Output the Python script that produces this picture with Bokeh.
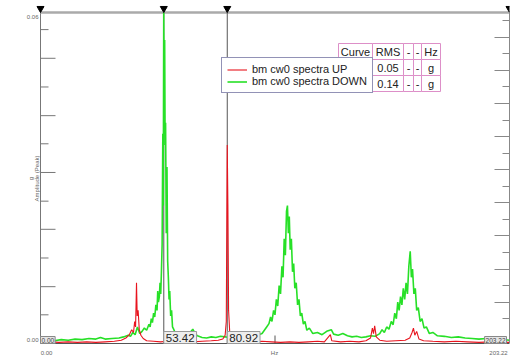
import math
from bokeh.plotting import figure
from bokeh.models import (Range1d, LinearAxis, FixedTicker, Label, Legend,
                          LegendItem, ColumnDataSource)
from bokeh.core.properties import value
from bokeh.embed import file_html
from bokeh.resources import INLINE

# ---------------- data ----------------
X_MAX = 203.22
Y_MAX = 0.06
cursor_hz = [53.42, 80.92]
marker_hz = [0.0, 53.42, 80.92, 203.22]

down_hz = [0, 3, 6, 9, 12, 15, 18, 21, 24, 26, 28, 31, 34, 36, 38, 39, 40, 41, 42, 43,
           44, 45, 46, 47, 47.5, 48, 48.5, 49, 49.5, 50, 50.5, 50.8, 51.1, 51.5, 51.8,
           52.1, 52.4, 52.7, 53.0, 53.2, 53.4, 53.6, 53.8, 54.0, 54.2, 54.5, 54.8, 55.1,
           55.4, 55.7, 56.0, 56.4, 56.8, 57.2, 57.8, 58.5, 59.2, 60, 62, 64, 66, 67, 68,
           70, 72, 74, 76, 78, 80, 82, 84, 86, 88, 90, 92, 94, 96, 97, 98, 99, 99.7,
           100.3, 101, 101.6, 102.2, 102.8, 103.4, 104, 104.6, 105.1, 105.6, 106.1,
           106.6, 107.0, 107.4, 107.8, 108.2, 108.7, 109.2, 109.7, 110.2, 110.8, 111.4,
           112, 112.6, 113.2, 113.9, 114.6, 115.4, 116.5, 118, 120, 122, 124, 126, 127,
           129, 131, 133, 135, 137, 139, 141, 143, 145, 147, 148, 149, 150, 151, 152,
           152.8, 153.5, 154.2, 154.8, 155.4, 156, 156.6, 157.2, 157.8, 158.4, 159,
           159.6, 160.2, 160.7, 161.2, 161.8, 162.4, 163, 163.7, 164.5, 165.3, 166.2,
           167.2, 168.5, 170, 172, 175, 178, 181, 184, 187, 190, 193, 196, 199, 203.22]
down_g = [0.0004, 0.0006, 0.0005, 0.0007, 0.0006, 0.0008, 0.0007, 0.0009, 0.0008, 0.0011,
          0.0008, 0.0009, 0.0010, 0.0012, 0.0015, 0.0013, 0.0020, 0.0016, 0.0030, 0.0018,
          0.0022, 0.0028, 0.0024, 0.0035, 0.0030, 0.0045, 0.0038, 0.0055, 0.0048, 0.0070,
          0.0060, 0.0095, 0.0075, 0.0085, 0.0110, 0.0090, 0.0130, 0.0180, 0.0380, 0.0250,
          0.0600, 0.0420, 0.0550, 0.0360, 0.0400, 0.0200, 0.0320, 0.0150, 0.0120, 0.0080,
          0.0095, 0.0050, 0.0060, 0.0030, 0.0025, 0.0018, 0.0022, 0.0014, 0.0012, 0.0016,
          0.0026, 0.0018, 0.0014, 0.0011, 0.0010, 0.0012, 0.0011, 0.0013, 0.0012, 0.0011,
          0.0012, 0.0010, 0.0011, 0.0012, 0.0013, 0.0015, 0.0018, 0.0024, 0.0030, 0.0036,
          0.0048, 0.0040, 0.0060, 0.0052, 0.0080, 0.0068, 0.0105, 0.0090, 0.0140, 0.0120,
          0.0190, 0.0160, 0.0240, 0.0250, 0.0200, 0.0230, 0.0170, 0.0190, 0.0130, 0.0145,
          0.0100, 0.0110, 0.0070, 0.0080, 0.0050, 0.0055, 0.0035, 0.0040, 0.0024, 0.0028,
          0.0018, 0.0020, 0.0016, 0.0022, 0.0025, 0.0017, 0.0015, 0.0018, 0.0014, 0.0012,
          0.0013, 0.0011, 0.0012, 0.0014, 0.0013, 0.0018, 0.0025, 0.0020, 0.0030, 0.0026,
          0.0040, 0.0034, 0.0055, 0.0045, 0.0075, 0.0060, 0.0085, 0.0070, 0.0100, 0.0080,
          0.0110, 0.0090, 0.0140, 0.0167, 0.0120, 0.0135, 0.0090, 0.0100, 0.0060, 0.0065,
          0.0040, 0.0045, 0.0028, 0.0030, 0.0018, 0.0020, 0.0014, 0.0013, 0.0011, 0.0012,
          0.0010, 0.0009, 0.0008, 0.0009, 0.0007, 0.0008, 0.0006]

up_hz = [0, 4, 8, 12, 16, 20, 24, 28, 32, 35, 37, 38.5, 39.5, 40.3, 40.8, 41.2, 41.6, 41.9,
         42.3, 42.8, 43.5, 44.5, 46, 49, 52, 55, 58, 62, 66, 70, 74, 77, 79, 80, 80.5,
         80.92, 81.2, 81.5, 82, 83, 85, 88, 92, 96, 100, 104, 108, 112, 116, 120, 123,
         125.6, 126.2, 130, 134, 138, 141, 143, 143.8, 144.3, 144.8, 145.5, 147, 150,
         154, 158, 160, 161, 161.6, 162.2, 163, 164, 166, 170, 175, 180, 185, 190, 195,
         203.22]
up_g = [0.0002, 0.0003, 0.0002, 0.0003, 0.0002, 0.0003, 0.0002, 0.0003, 0.0004, 0.0006,
        0.0010, 0.0016, 0.0025, 0.0020, 0.0040, 0.0030, 0.0110, 0.0050, 0.0060, 0.0025,
        0.0015, 0.0009, 0.0005, 0.0004, 0.0003, 0.0004, 0.0003, 0.0004, 0.0003, 0.0004,
        0.0005, 0.0006, 0.0008, 0.0015, 0.0040, 0.0360, 0.0250, 0.0060, 0.0020, 0.0008,
        0.0005, 0.0004, 0.0003, 0.0004, 0.0003, 0.0002, 0.0003, 0.0002, 0.0003, 0.0004,
        0.0003, 0.0016, 0.0005, 0.0003, 0.0004, 0.0003, 0.0005, 0.0010, 0.0028, 0.0018,
        0.0032, 0.0012, 0.0006, 0.0004, 0.0005, 0.0006, 0.0010, 0.0020, 0.0028, 0.0015,
        0.0022, 0.0008, 0.0005, 0.0004, 0.0003, 0.0004, 0.0003, 0.0002, 0.0003, 0.0002]

left_major = [0.0103, 0.0207, 0.0310, 0.0413, 0.0517]
left_minor = [0.0052, 0.0155, 0.0258, 0.0362, 0.0465, 0.0569]
right_major = [0.0075, 0.0135, 0.0195, 0.0255, 0.0315, 0.0375, 0.0435, 0.0495, 0.0555]
right_minor = [0.0045, 0.0105, 0.0165, 0.0225, 0.0285, 0.0345, 0.0405, 0.0465, 0.0525, 0.0585]

y_tick_labels = ["0.00", "0.06"]
x_tick_labels = ["0.00", "Hz", "203.22"]
y_title = ["g", "Amplitude (Peak)"]
legend_labels = ["bm cw0 spectra UP", "bm cw0 spectra DOWN"]
table_header = ["Curve", "RMS", "-", "-", "Hz"]
table_rows = [["", "0.05", "-", "-", "g"], ["", "0.14", "-", "-", "g"]]

# ---------------- layout (page pixels) ----------------
W, H = 513, 361
AX_L, AX_R, AX_T, AX_B = 40, 509, 12, 343   # pixel positions of the axes box
FT = 4                                       # top of drawing frame
FONT = "Liberation Sans"
RED = "#e8141e"
GREEN = "#27e027"
AXC = "#777777"

x_per_px = X_MAX / (AX_R - AX_L)
y_per_px = Y_MAX / (AX_B - AX_T)

# the frame spans from the page's left edge to the right axis and down to the page's
# bottom, so that the outer texts can be drawn in it
p = figure(frame_width=AX_R, frame_height=H - FT,
           x_range=Range1d(-AX_L * x_per_px, X_MAX),
           y_range=Range1d(-(H - AX_B) * y_per_px, Y_MAX + (AX_T - FT) * y_per_px),
           output_backend="svg", toolbar_location=None,
           x_axis_location=None, y_axis_location=None,
           min_border_left=0, min_border_right=W - AX_R, min_border_top=FT,
           min_border_bottom=0, background_fill_color="white",
           border_fill_color="white", outline_line_color=None)
p.grid.visible = False
p.extra_x_ranges = {"px": Range1d(0, AX_R)}
p.extra_y_ranges = {"py": Range1d(H, FT)}

# right axis (real axis on the frame's right edge)
ax_r = LinearAxis(ticker=FixedTicker(ticks=right_major, minor_ticks=right_minor),
                  major_tick_in=15, major_tick_out=0, minor_tick_in=7, minor_tick_out=0,
                  major_tick_line_color="#888888", minor_tick_line_color="#888888",
                  axis_line_color="#888888", major_label_text_font_size="0px",
                  major_label_text_color=None, major_label_standoff=0)
ax_r.bounds = (0, Y_MAX)
p.add_layout(ax_r, "right")

# left axis line and ticks
p.segment(x0=[0], y0=[0], x1=[0], y1=[Y_MAX], line_color=AXC, line_width=1)
p.segment(x0=[AX_L] * len(left_major), x1=[AX_L + 15] * len(left_major),
          y0=left_major, y1=left_major, x_range_name="px", line_color=AXC)
p.segment(x0=[AX_L] * len(left_minor), x1=[AX_L + 8] * len(left_minor),
          y0=left_minor, y1=left_minor, x_range_name="px", line_color=AXC)
# bottom axis line and middle tick
p.segment(x0=[0], y0=[0], x1=[X_MAX], y1=[0], line_color="#555555", line_width=1)
p.segment(x0=[X_MAX / 2], x1=[X_MAX / 2], y0=[AX_B], y1=[AX_B - 8], y_range_name="py",
          line_color="#555555")

# top line
p.segment(x0=[0], y0=[Y_MAX], x1=[X_MAX], y1=[Y_MAX], line_color="#aaaaaa", line_width=2.5)

# cursors
p.segment(x0=cursor_hz, y0=[0] * len(cursor_hz), x1=cursor_hz, y1=[Y_MAX] * len(cursor_hz),
          line_color="#555555", line_width=1)

# spectra
r_down = p.line(down_hz, down_g, line_color=GREEN, line_width=1.6)
r_up = p.line(up_hz, up_g, line_color=RED, line_width=1.1)

# top markers
p.scatter(x=marker_hz, y=[Y_MAX + 4 * y_per_px] * len(marker_hz),
          marker="inverted_triangle", size=7, color="black")


def ptext(x, y, t, align="center", size="6px", angle=0.0, color="#666666"):
    p.add_layout(Label(x=x, y=y, x_range_name="px", y_range_name="py", text=t,
                       text_align=align, text_baseline="middle", text_font=FONT,
                       text_font_size=size, text_color=color, angle=angle))


ptext(38, 339, y_tick_labels[0], "right")
ptext(38, 16, y_tick_labels[1], "right")
ptext(46, 352, x_tick_labels[0])
ptext(274, 352, x_tick_labels[1])
ptext(498, 352, x_tick_labels[2])
ptext(30, 178, y_title[0], angle=math.pi / 2, size="6px")
ptext(36.5, 178, y_title[1], angle=math.pi / 2, size="6px")

# cursor value boxes
for h in cursor_hz:
    p.add_layout(Label(x=h, y=0, text=f"{h:.2f}", text_align="left", text_baseline="bottom",
                       text_font=FONT, text_font_size="11.5px", text_color="#222222",
                       background_fill_color="#eeeeee", border_line_color="#999999",
                       padding=2))
p.add_layout(Label(x=0, y=0, text="0.00", text_align="left", text_baseline="bottom",
                   text_font=FONT, text_font_size="6.5px", text_color="#444444",
                   background_fill_color="#e4e4e4", border_line_color="#888888", padding=1))
p.add_layout(Label(x=X_MAX, y=0, text="203.22", text_align="right", text_baseline="bottom",
                   text_font=FONT, text_font_size="6.5px", text_color="#444444",
                   background_fill_color="#e4e4e4", border_line_color="#888888", padding=1,
                   x_offset=-3))

# table
col_edges = [338, 372, 403, 413, 421, 440]
row_edges = [43, 59, 75, 91]
rows = [table_header] + table_rows
qs = dict(left=[], right=[], top=[], bottom=[])
tx, ty, tt = [], [], []
for ri, row in enumerate(rows):
    for ci, t in enumerate(row):
        qs["left"].append(col_edges[ci]); qs["right"].append(col_edges[ci + 1])
        qs["top"].append(row_edges[ri]); qs["bottom"].append(row_edges[ri + 1])
        if t:
            tx.append((col_edges[ci] + col_edges[ci + 1]) / 2)
            ty.append((row_edges[ri] + row_edges[ri + 1]) / 2 + 0.5)
            tt.append(t)
p.quad(source=ColumnDataSource(qs), left="left", right="right", top="top", bottom="bottom",
       x_range_name="px", y_range_name="py", fill_color="white",
       line_color="#dd8fc8", line_width=1)
p.text(x=tx, y=ty, text=tt, x_range_name="px", y_range_name="py", text_align="center",
       text_baseline="middle", text_font=value(FONT), text_font_size="11px",
       text_color="#222222")

legend = Legend(items=[LegendItem(label=legend_labels[0], renderers=[r_up]),
                       LegendItem(label=legend_labels[1], renderers=[r_down])],
                location=(221, H - 93), label_text_font=FONT,
                label_text_font_size="11px", label_text_color="#222222",
                label_height=11, glyph_height=11, glyph_width=20, label_standoff=5,
                spacing=0, padding=5, margin=0, border_line_color="#26266e",
                border_line_width=1.5, background_fill_alpha=1.0)
p.add_layout(legend, "center")

open("out.html", "w").write(file_html(p, INLINE))
